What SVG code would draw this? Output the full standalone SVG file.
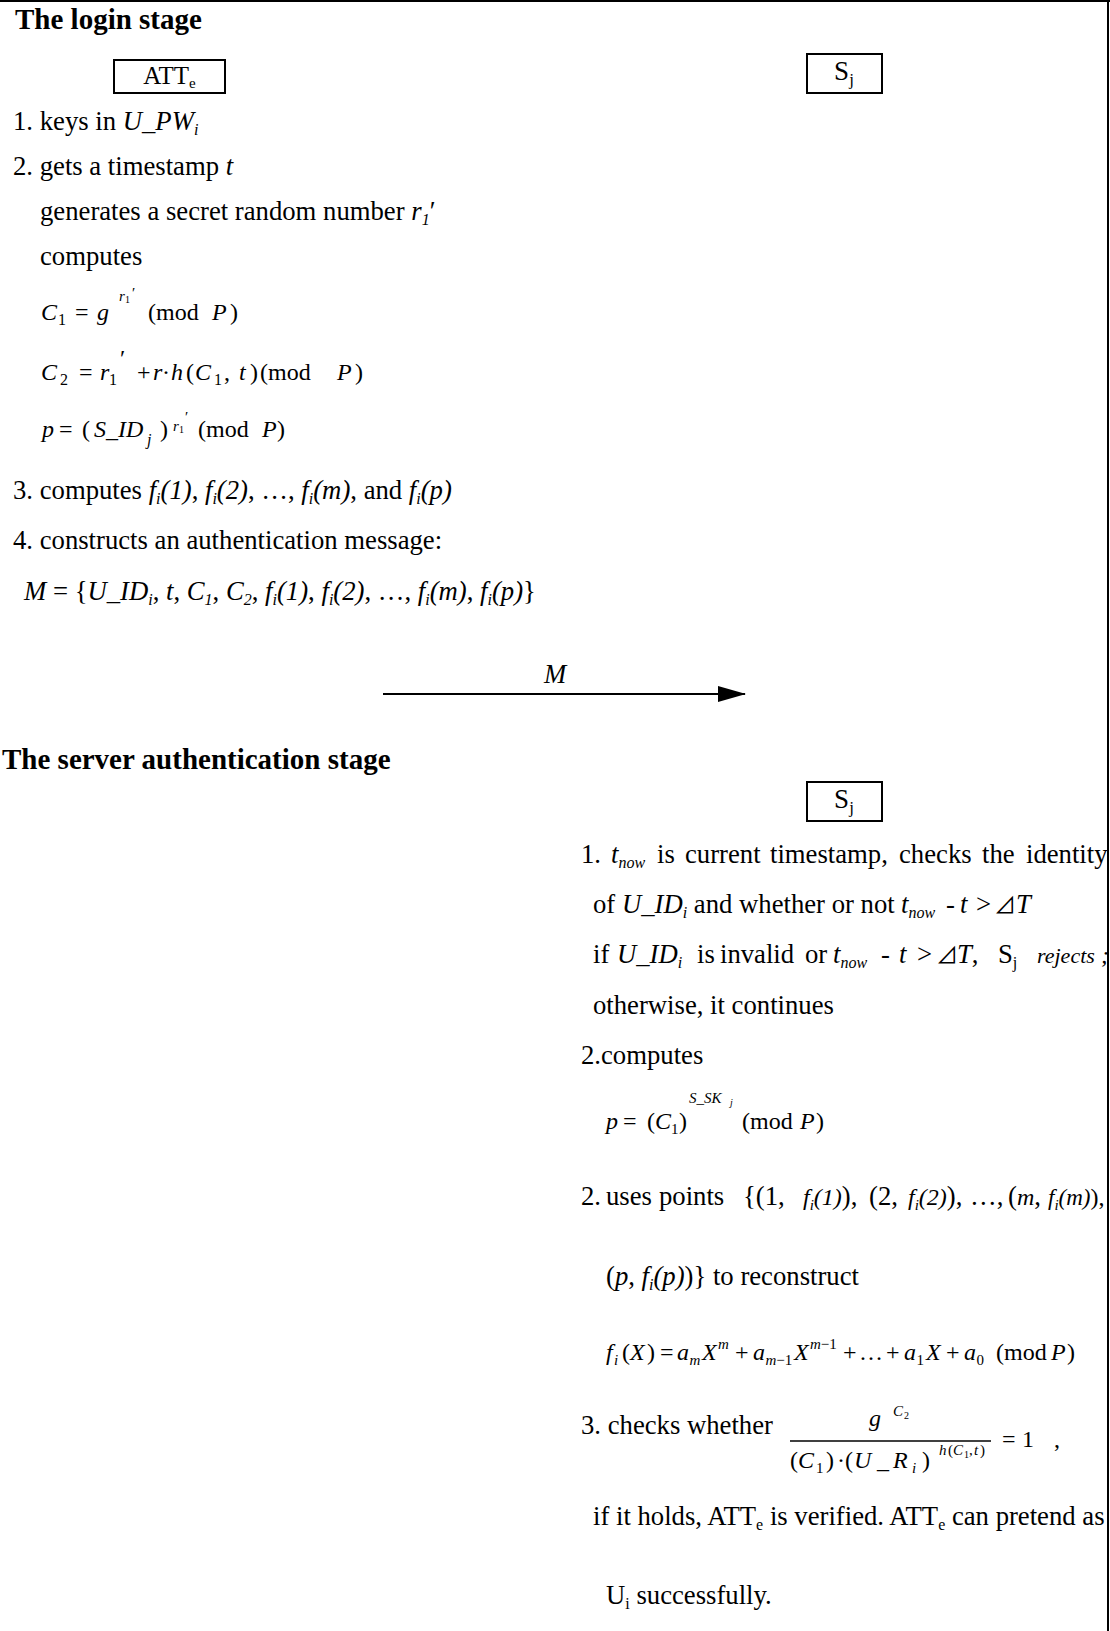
<svg xmlns="http://www.w3.org/2000/svg" width="1110" height="1631" viewBox="0 0 1110 1631">
<style>
text{font-family:"Liberation Serif","Times New Roman",serif;fill:#000;}
.h{font-size:29px;font-weight:bold;}
.t{font-size:26.7px;}
.e{font-size:24px;}
.n{font-size:24px;}
.m{font-size:23px;}
.r{font-size:22px;}
.i{font-style:italic;}
.s{font-size:16px;}
.sp{font-size:15px;}
.ss{font-size:10px;}
.tri{font-family:"Noto Sans CJK SC","DejaVu Sans",sans-serif;font-style:normal;font-size:22px;}
.box{fill:#fff;stroke:#000;stroke-width:2;}
.frame{stroke:#000;stroke-width:2;fill:none;}
.conn{stroke:#000;stroke-width:2;fill:none;}
</style>
<defs>
<marker id="ah" markerWidth="28" markerHeight="16" refX="27" refY="8" orient="auto" markerUnits="userSpaceOnUse"><path d="M0,0 L28,8 L0,16 z" fill="#000"/></marker>
</defs>
<rect width="1110" height="1631" fill="#fff"/>

<g id="login-stage">
<text class="h" x="15" y="29">The login stage</text>
<text class="t" x="13" y="130">1. keys in <tspan class="i">U_PW</tspan><tspan class="i s" dy="5">i</tspan></text>
<text class="t" x="13" y="175">2. gets a timestamp <tspan class="i">t</tspan></text>
<text class="t" x="40" y="220">generates a secret random number <tspan class="i">r</tspan><tspan class="i s" dy="5">1</tspan><tspan dy="-5">′</tspan></text>
<text class="t" x="40" y="265">computes</text>
<text class="e" y="320"><tspan class="i" x="41">C</tspan><tspan class="s" x="58" dy="5">1</tspan><tspan x="75" dy="-5">=</tspan><tspan class="i" x="97">g</tspan><tspan class="i sp" x="119" dy="-19">r</tspan><tspan class="ss" x="125" dy="2">1</tspan><tspan class="sp" x="132" dy="-5">′</tspan><tspan x="148" dy="22">(mod</tspan><tspan class="i" x="212">P</tspan><tspan x="230">)</tspan></text>
<text class="e" y="380"><tspan class="i" x="41">C</tspan><tspan class="s" x="60" dy="5">2</tspan><tspan x="79" dy="-5">=</tspan><tspan class="i" x="100">r</tspan><tspan class="s" x="109" dy="5">1</tspan><tspan x="120" dy="-19">′</tspan><tspan x="137" dy="14">+</tspan><tspan class="i" x="153">r</tspan><tspan x="162">·</tspan><tspan class="i" x="171">h</tspan><tspan x="186">(</tspan><tspan class="i" x="195">C</tspan><tspan class="s" x="214" dy="5">1</tspan><tspan x="224" dy="-5">,</tspan><tspan class="i" x="239">t</tspan><tspan x="250">)</tspan><tspan x="260">(mod</tspan><tspan class="i" x="337">P</tspan><tspan x="355">)</tspan></text>
<text class="e" y="437"><tspan class="i" x="42">p</tspan><tspan x="59">=</tspan><tspan x="82">(</tspan><tspan class="i" x="94">S_ID</tspan><tspan class="i s" x="147" dy="8">j</tspan><tspan x="160" dy="-8">)</tspan><tspan class="i sp" x="173" dy="-6">r</tspan><tspan class="ss" x="179" dy="2">1</tspan><tspan class="sp" x="185" dy="-11">′</tspan><tspan x="198" dy="15">(mod</tspan><tspan class="i" x="262">P</tspan><tspan x="277">)</tspan></text>
<text class="t" x="13" y="499">3. computes <tspan class="i">f</tspan><tspan class="i s" dy="5">i</tspan><tspan class="i" dy="-5">(1)</tspan>, <tspan class="i">f</tspan><tspan class="i s" dy="5">i</tspan><tspan class="i" dy="-5">(2)</tspan>, …, <tspan class="i">f</tspan><tspan class="i s" dy="5">i</tspan><tspan class="i" dy="-5">(m)</tspan>, and <tspan class="i">f</tspan><tspan class="i s" dy="5">i</tspan><tspan class="i" dy="-5">(p)</tspan></text>
<text class="t" x="13" y="549">4. constructs an authentication message:</text>
<text class="t" x="24" y="600"><tspan class="i">M</tspan> = {<tspan class="i">U_ID</tspan><tspan class="i s" dy="5">i</tspan><tspan dy="-5">, </tspan><tspan class="i">t</tspan>, <tspan class="i">C</tspan><tspan class="i s" dy="5">1</tspan><tspan dy="-5">, </tspan><tspan class="i">C</tspan><tspan class="i s" dy="5">2</tspan><tspan dy="-5">, </tspan><tspan class="i">f</tspan><tspan class="i s" dy="5">i</tspan><tspan class="i" dy="-5">(1)</tspan>, <tspan class="i">f</tspan><tspan class="i s" dy="5">i</tspan><tspan class="i" dy="-5">(2)</tspan>, …, <tspan class="i">f</tspan><tspan class="i s" dy="5">i</tspan><tspan class="i" dy="-5">(m)</tspan>, <tspan class="i">f</tspan><tspan class="i s" dy="5">i</tspan><tspan class="i" dy="-5">(p)</tspan>}</text>
</g>

<g id="node-atte">
<rect class="box" x="114" y="60" width="111" height="33"/>
<text x="169.5" y="84" font-size="25" text-anchor="middle">ATT<tspan font-size="15" dy="4">e</tspan></text>
</g>

<g id="node-sj-login">
<rect class="box" x="807" y="54" width="75" height="39"/>
<text x="844" y="80" font-size="27" text-anchor="middle">S<tspan font-size="17" dy="5">j</tspan></text>
</g>

<g id="connectors">
<line class="conn" x1="383" y1="694" x2="745" y2="694" marker-end="url(#ah)"/>
<text class="t i" x="544" y="683">M</text>
</g>

<g id="server-stage">
<text class="h" x="2" y="769">The server authentication stage</text>
<text class="t" y="863"><tspan x="581">1.</tspan><tspan class="i" x="611">t</tspan><tspan class="i s" dy="5">now</tspan><tspan x="657" dy="-5">is</tspan><tspan x="685">current</tspan><tspan x="770">timestamp,</tspan><tspan x="899">checks</tspan><tspan x="982">the</tspan><tspan x="1026">identity</tspan></text>
<text class="t" y="913"><tspan x="593">of </tspan><tspan class="i">U_ID</tspan><tspan class="i s" dy="5">i</tspan><tspan dy="-5"> and whether or not</tspan><tspan class="i" x="901">t</tspan><tspan class="i s" dy="5">now</tspan><tspan x="946" dy="-5">-</tspan><tspan class="i" x="960">t</tspan><tspan x="976">&gt;</tspan><tspan class="tri" x="994">⊿</tspan><tspan class="i" x="1016">T</tspan></text>
<text class="t" y="963"><tspan x="593">if</tspan><tspan class="i" x="617">U_ID</tspan><tspan class="i s" dy="5">i</tspan><tspan x="697" dy="-5">is</tspan><tspan x="720">invalid</tspan><tspan x="805">or</tspan><tspan class="i" x="833">t</tspan><tspan class="i s" dy="5">now</tspan><tspan x="881" dy="-5">-</tspan><tspan class="i" x="899">t</tspan><tspan x="917">&gt;</tspan><tspan class="tri" x="936">⊿</tspan><tspan class="i" x="957">T</tspan><tspan>,</tspan><tspan x="998">S</tspan><tspan class="s" dy="5">j</tspan><tspan class="i r" x="1037" dy="-5">rejects</tspan><tspan class="i n" x="1101">;</tspan></text>
<text class="t" x="593" y="1014">otherwise, it continues</text>
<text class="t" x="581" y="1064">2.computes</text>
<text font-size="24" y="1129"><tspan class="i" x="606">p</tspan><tspan x="623">=</tspan><tspan x="647">(</tspan><tspan class="i" x="655">C</tspan><tspan class="sp" x="671" dy="5">1</tspan><tspan x="679" dy="-5">)</tspan><tspan class="i sp" x="689" dy="-26">S_SK</tspan><tspan class="i ss" x="730" dy="3">j</tspan><tspan x="742" dy="23">(mod</tspan><tspan class="i" x="800">P</tspan><tspan x="816">)</tspan></text>
<text class="t" y="1205"><tspan x="581">2.</tspan><tspan x="606">uses</tspan><tspan x="659">points</tspan><tspan x="743">{(1,</tspan><tspan class="i n" x="803">f</tspan><tspan class="i sp" dy="5">i</tspan><tspan class="i n" dy="-5">(1)</tspan><tspan>),</tspan><tspan x="869">(2,</tspan><tspan class="i n" x="908">f</tspan><tspan class="i sp" dy="5">i</tspan><tspan class="i n" dy="-5">(2)</tspan><tspan>),</tspan><tspan x="970">…,</tspan><tspan x="1008">(<tspan class="i n">m</tspan>,</tspan><tspan class="i m" x="1048">f</tspan><tspan class="i sp" dy="5">i</tspan><tspan class="i m" dy="-5">(m)</tspan><tspan class="n">),</tspan></text>
<text class="t" x="606" y="1285">(<tspan class="i">p</tspan>, <tspan class="i">f</tspan><tspan class="i s" dy="5">i</tspan><tspan class="i" dy="-5">(p)</tspan>)} to reconstruct</text>
<text class="e" y="1360"><tspan class="i" x="606">f</tspan><tspan class="i sp" x="614" dy="5">i</tspan><tspan x="622" dy="-5">(</tspan><tspan class="i" x="630">X</tspan><tspan x="647">)</tspan><tspan x="660">=</tspan><tspan class="i" x="677">a</tspan><tspan class="i sp" x="689.5" dy="5">m</tspan><tspan class="i" x="702" dy="-5">X</tspan><tspan class="i sp" x="718" dy="-11">m</tspan><tspan x="735" dy="11">+</tspan><tspan class="i" x="753">a</tspan><tspan class="sp" x="765.5" dy="5"><tspan class="i">m</tspan>−1</tspan><tspan class="i" x="794" dy="-5">X</tspan><tspan class="sp" x="810" dy="-11"><tspan class="i">m</tspan>−1</tspan><tspan x="843" dy="11">+</tspan><tspan x="859">…</tspan><tspan x="886">+</tspan><tspan class="i" x="904">a</tspan><tspan class="sp" x="916.5" dy="5">1</tspan><tspan class="i" x="926" dy="-5">X</tspan><tspan x="946">+</tspan><tspan class="i" x="964">a</tspan><tspan class="sp" x="976.5" dy="5">0</tspan><tspan x="996" dy="-5">(mod</tspan><tspan class="i" x="1051">P</tspan><tspan x="1067">)</tspan></text>
<text class="t" x="581" y="1434">3. checks whether</text>
<text class="e" y="1426"><tspan class="i" x="869">g</tspan><tspan class="i sp" x="893" dy="-10">C</tspan><tspan class="ss" x="904" dy="3">2</tspan></text>
<line x1="790" y1="1441" x2="991" y2="1441" stroke="#000" stroke-width="1.3"/>
<text class="e" y="1468"><tspan x="790">(</tspan><tspan class="i" x="798">C</tspan><tspan class="sp" x="816" dy="5">1</tspan><tspan x="826" dy="-5">)</tspan><tspan x="837">·</tspan><tspan x="845">(</tspan><tspan class="i" x="854">U</tspan><tspan class="i" x="877">_</tspan><tspan class="i" x="893">R</tspan><tspan class="i sp" x="912" dy="5">i</tspan><tspan x="922" dy="-5">)</tspan><tspan class="i sp" x="939" dy="-13">h</tspan><tspan class="sp" x="948">(</tspan><tspan class="i sp" x="953">C</tspan><tspan class="ss" x="964" dy="3">1</tspan><tspan class="sp" x="969" dy="-3">,</tspan><tspan class="i sp" x="974">t</tspan><tspan class="sp" x="980">)</tspan></text>
<text class="e" y="1447"><tspan x="1002">=</tspan><tspan x="1022">1</tspan><tspan x="1054">,</tspan></text>
<text class="t" x="593" y="1525">if it holds, ATT<tspan class="s" dy="5">e</tspan><tspan dy="-5"> is verified. ATT</tspan><tspan class="s" dy="5">e</tspan><tspan dy="-5"> can pretend as</tspan></text>
<text class="t" x="606" y="1604">U<tspan class="s" dy="5">i</tspan><tspan dy="-5"> successfully.</tspan></text>
</g>

<g id="node-sj-server">
<rect class="box" x="807" y="782" width="75" height="39"/>
<text x="844" y="808" font-size="27" text-anchor="middle">S<tspan font-size="17" dy="5">j</tspan></text>
</g>

<g id="frame">
<line class="frame" x1="0" y1="1" x2="1110" y2="1"/>
<line class="frame" x1="1108" y1="0" x2="1108" y2="1631"/>
</g>
</svg>
